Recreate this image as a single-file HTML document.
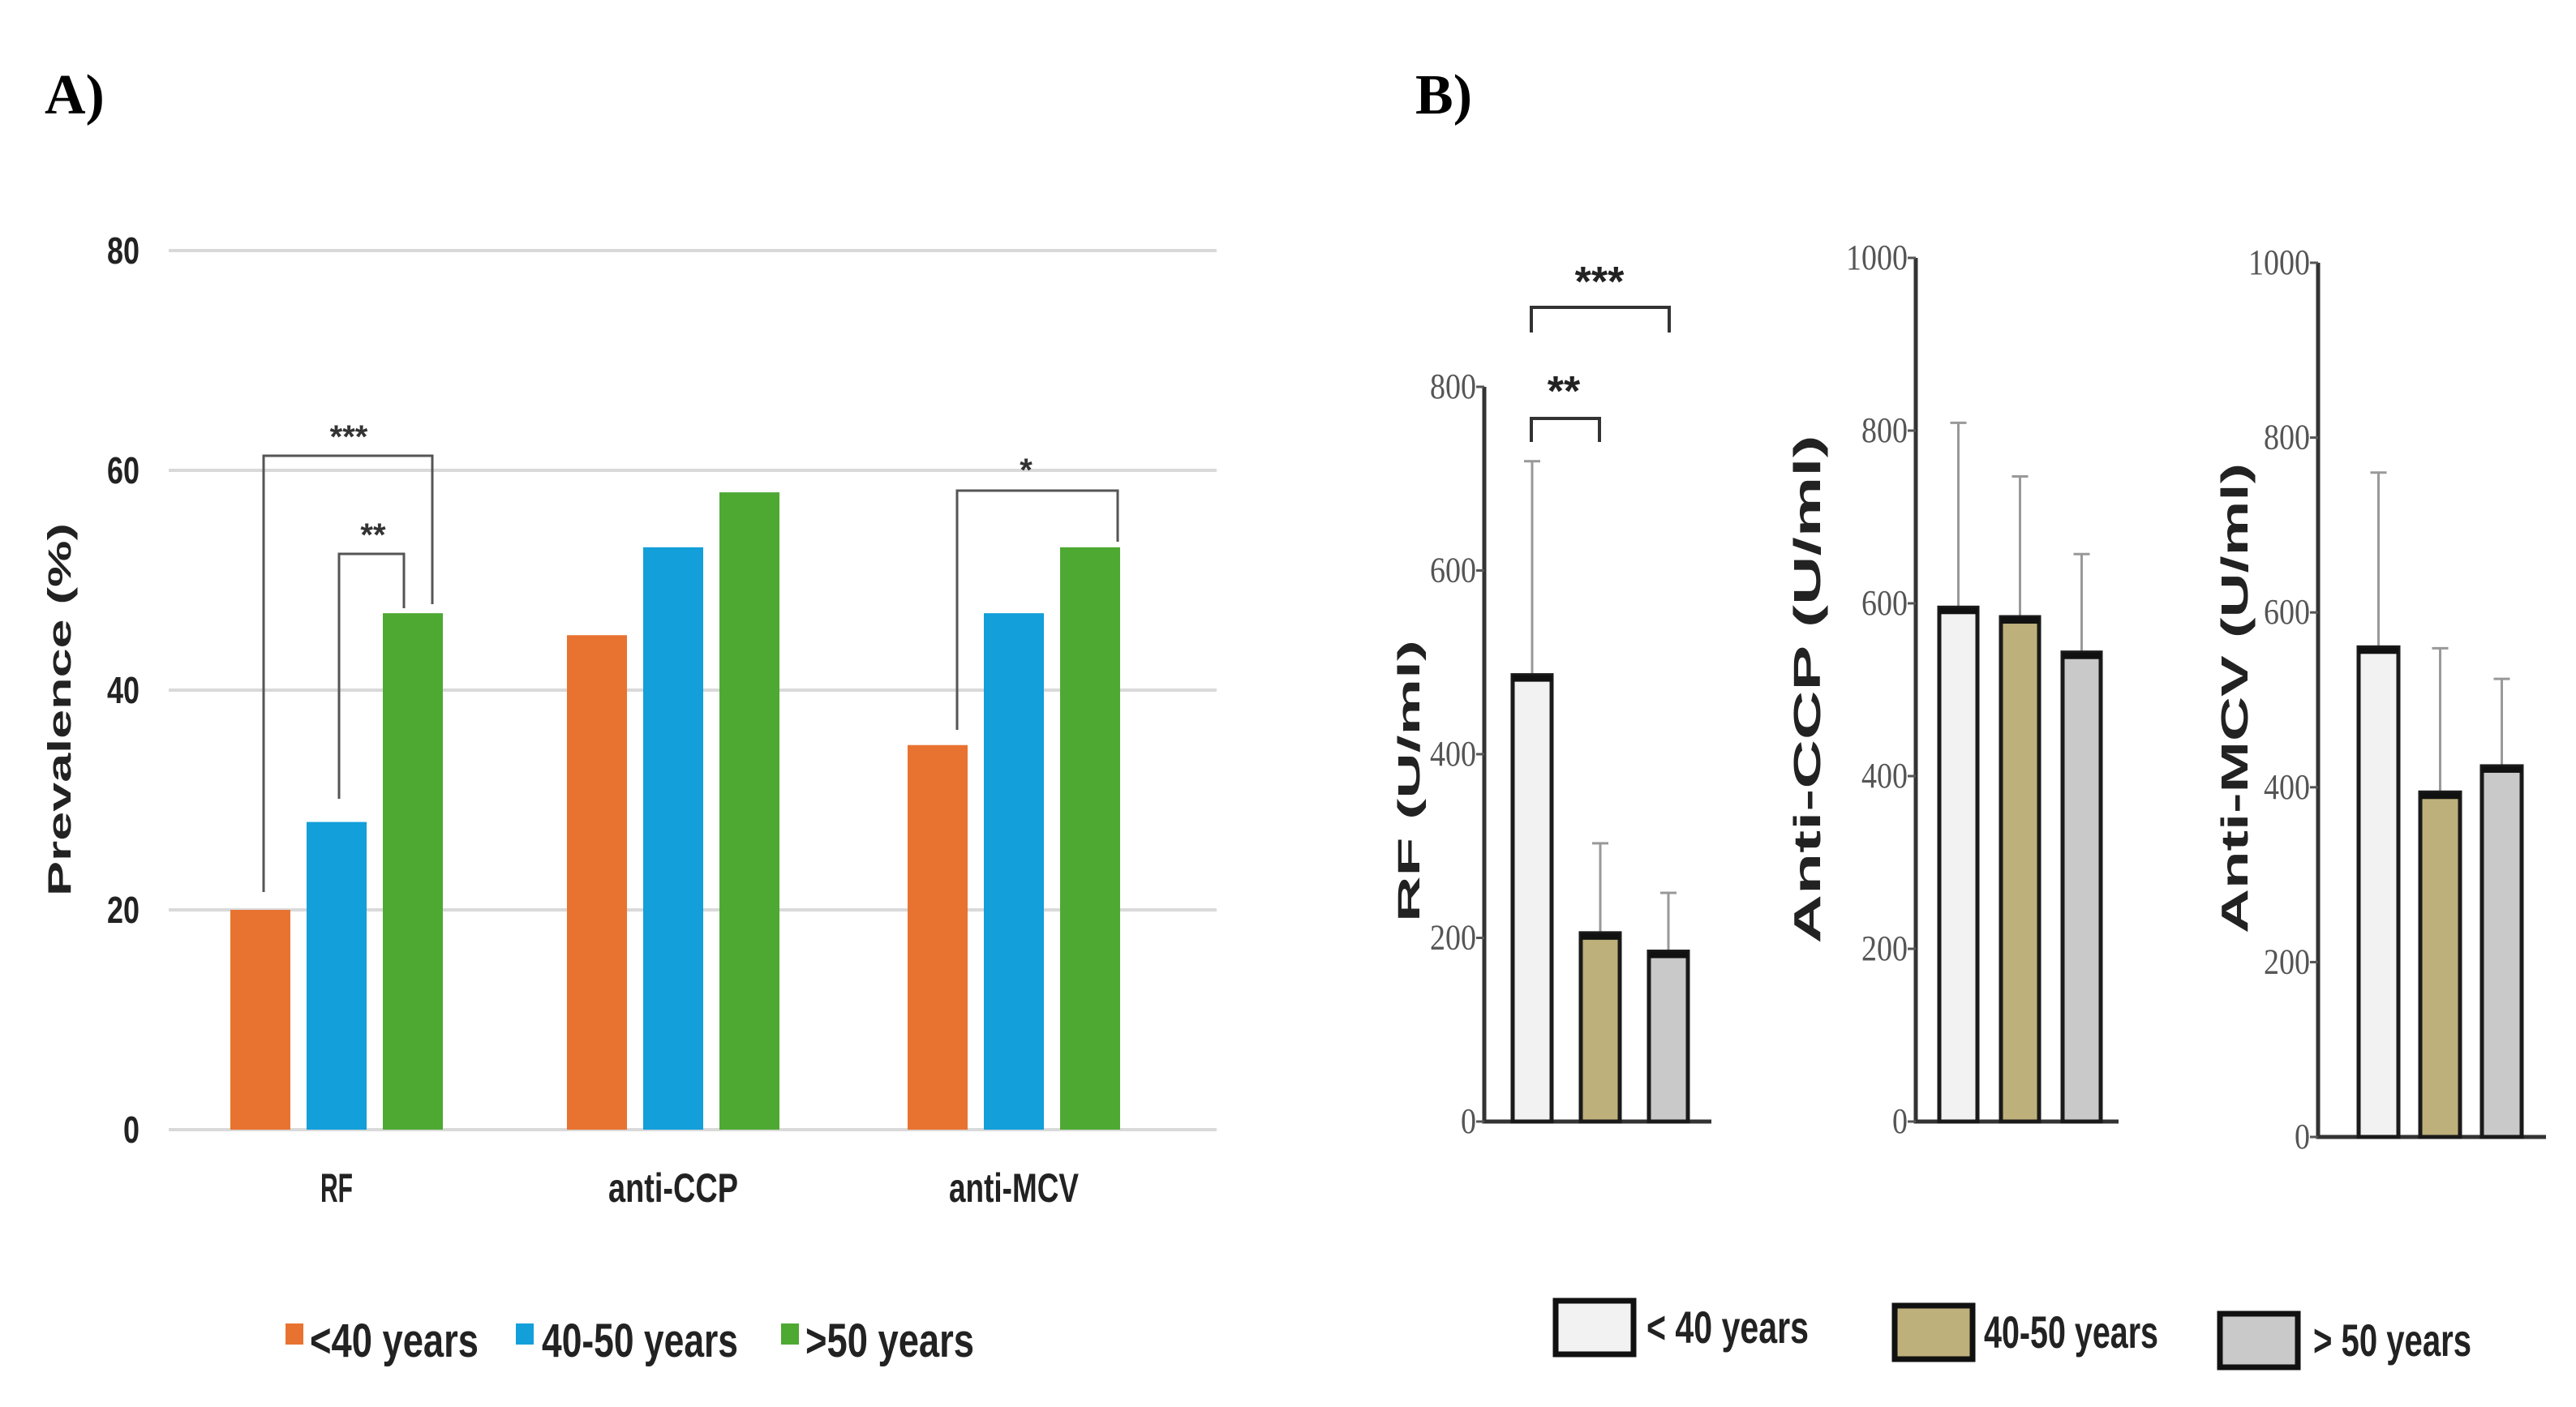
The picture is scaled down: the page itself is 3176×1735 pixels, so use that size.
<!DOCTYPE html>
<html><head><meta charset="utf-8"><style>
html,body{margin:0;padding:0;background:#fff;}
svg{display:block;}
</style></head><body>
<svg id="fig" width="3176" height="1735" viewBox="0 0 3176 1735" xmlns="http://www.w3.org/2000/svg">
<text x="55" y="140" font-family="Liberation Serif, serif" font-weight="bold" font-size="70">A)</text>
<text x="1745" y="140" font-family="Liberation Serif, serif" font-weight="bold" font-size="70">B)</text>
<g id="gA"></g>
<g id="gB"></g>
</svg>
<script>
// Panel A data
const catsA = ["RF", "anti-CCP", "anti-MCV"];
const seriesNamesA = ["<40 years", "40-50 years", ">50 years"];
const under40A = [20, 45, 35];
const mid40A = [28, 53, 47];
const over50A = [47, 58, 53];
const ticksA = [0, 20, 40, 60, 80];
// Panel B data
const groupsB = ["< 40 years", "40-50 years", "> 50 years"];
const rfMean = [486, 205, 185];
const rfErr = [719, 303, 249];
const ccpMean = [595, 584, 543];
const ccpErr = [809, 747, 657];
const mcvMean = [560, 394, 424];
const mcvErr = [760, 559, 524];
const rfTicks = [0, 200, 400, 600, 800];
const ccpTicks = [0, 200, 400, 600, 800, 1000];
const mcvTicks = [0, 200, 400, 600, 800, 1000];

const NS = "http://www.w3.org/2000/svg";
function mk(parent, tag, attrs, text) {
  const e = document.createElementNS(NS, tag);
  for (const k in attrs) e.setAttribute(k, attrs[k]);
  if (text !== undefined) e.textContent = text;
  parent.appendChild(e);
  return e;
}
// ---------- Panel A ----------
const gA = document.getElementById("gA");
const yA = v => 1393 - v * 13.55;
const colorsA = ["#e87330", "#139fda", "#4ea933"];
const centersA = [415, 830, 1250];
ticksA.forEach(t => {
  const l = mk(gA, "line", {x1: 208, x2: 1500, y1: yA(t), y2: yA(t), stroke: "#d9d9d9", "stroke-width": 4});
  
  
  const tx = mk(gA, "text", {x: 172, y: yA(t) + 16, "text-anchor": "end", "font-family": "Liberation Sans, sans-serif", "font-weight": "bold", "font-size": 46, fill: "#222", textLength: t === 0 ? 20 : 40, lengthAdjust: "spacingAndGlyphs"}, String(t));
  
  
});
const allA = [under40A, mid40A, over50A];
catsA.forEach((c, i) => {
  allA.forEach((s, j) => {
    const x = centersA[i] + (j - 1) * 94 - 37;
    const r = mk(gA, "rect", {x: x, y: yA(s[i]), width: 74, height: yA(0) - yA(s[i]), fill: colorsA[j]});
    
    
  });
  const t = mk(gA, "text", {x: centersA[i], y: 1482, "text-anchor": "middle", "font-family": "Liberation Sans, sans-serif", "font-weight": "bold", "font-size": 50, fill: "#222", textLength: c.length * 20, lengthAdjust: "spacingAndGlyphs"}, c);
  
  
});
const yt = mk(gA, "text", {x: 0, y: 0, transform: "translate(87,875) rotate(-90)", "text-anchor": "middle", "font-family": "Liberation Sans, sans-serif", "font-weight": "bold", "font-size": 40, fill: "#222", textLength: 460, lengthAdjust: "spacingAndGlyphs"}, "Prevalence  (%)");


function bracketA(x1, y1, x2, y2, yTop, label, lx, ly) {
  const p = mk(gA, "path", {d: `M${x1} ${y1} V${yTop} H${x2} V${y2}`, fill: "none", stroke: "#555", "stroke-width": 3});
  
  
  const t = mk(gA, "text", {x: lx, y: ly, "text-anchor": "middle", "font-family": "Liberation Sans, sans-serif", "font-weight": "bold", "font-size": 40, fill: "#333"}, label);
  
  
}
bracketA(325, 1100, 533, 745, 562, "***", 430, 552);
bracketA(418, 985, 498, 750, 683, "**", 460, 673);
bracketA(1180, 900, 1378, 668, 605, "*", 1265, 593);
// legend A
const legA = [[352, 382, 208], [636, 668, 242], [963, 993, 208]];
seriesNamesA.forEach((n, j) => {
  const s = mk(gA, "rect", {x: legA[j][0], y: 1632, width: 22, height: 26, fill: colorsA[j]});
  
  
  const t = mk(gA, "text", {x: legA[j][1], y: 1673, "font-family": "Liberation Sans, sans-serif", "font-weight": "bold", "font-size": 58, fill: "#222", textLength: legA[j][2], lengthAdjust: "spacingAndGlyphs"}, n);
  
  
});
// ---------- Panel B ----------
const gB = document.getElementById("gB");
const fillsB = ["#f2f2f2", "#bdb07a", "#c9c9c9"];
function chartB(cfg) {
  const y = v => cfg.y0 - v * cfg.k;
  const ax = mk(gB, "path", {d: `M${cfg.ax} ${y(cfg.ticks[cfg.ticks.length-1])} V${cfg.y0} H${cfg.xEnd}`, fill: "none", stroke: "#333", "stroke-width": 5});
  
  
  cfg.ticks.forEach(t => {
    const tk = mk(gB, "line", {x1: cfg.ax - 10, x2: cfg.ax, y1: y(t), y2: y(t), stroke: "#555", "stroke-width": 3});
    
    
    const tx = mk(gB, "text", {x: cfg.ax - 10, y: y(t) + 14, "text-anchor": "end", "font-family": "Liberation Serif, serif", "font-size": 44, fill: "#555", textLength: String(t).length * 19, lengthAdjust: "spacingAndGlyphs"}, String(t));
    
    
  });
  cfg.mean.forEach((m, i) => {
    const x = cfg.x0 + i * cfg.step;
    const cx = x + cfg.w / 2;
    const e = mk(gB, "path", {d: `M${cx} ${y(m)} V${y(cfg.err[i])} M${cx - 10} ${y(cfg.err[i])} H${cx + 10}`, stroke: "#999", "stroke-width": 3, fill: "none"});
    
    
    const r = mk(gB, "rect", {x: x, y: y(m), width: cfg.w, height: cfg.y0 - y(m), fill: fillsB[i], stroke: "#1a1a1a", "stroke-width": 5});
    
    
    const cap = mk(gB, "rect", {x: x, y: y(m), width: cfg.w, height: 8, fill: "#111"});
    
    
  });
  const t = mk(gB, "text", {x: 0, y: 0, transform: `translate(${cfg.lx},${cfg.ly}) rotate(-90)`, "text-anchor": "middle", "font-family": "Liberation Sans, sans-serif", "font-weight": "bold", "font-size": cfg.fs, fill: "#222", textLength: cfg.tl, lengthAdjust: "spacingAndGlyphs"}, cfg.title);
  
  
  return y;
}
chartB({name: "rf", ax: 1830, y0: 1383, k: 1.1325, xEnd: 2110, ticks: rfTicks, mean: rfMean, err: rfErr, x0: 1865, step: 84, w: 48, lx: 1750, ly: 963, fs: 38, tl: 348, title: "RF (U/ml)"});
chartB({name: "anti-ccp", ax: 2362, y0: 1383, k: 1.065, xEnd: 2612, ticks: ccpTicks, mean: ccpMean, err: ccpErr, x0: 2391, step: 76, w: 47, lx: 2244, ly: 850, fs: 46, tl: 627, title: "Anti-CCP (U/ml)"});
chartB({name: "anti-mcv", ax: 2858, y0: 1402, k: 1.078, xEnd: 3139, ticks: mcvTicks, mean: mcvMean, err: mcvErr, x0: 2908, step: 76, w: 49, lx: 2771, ly: 861, fs: 46, tl: 580, title: "Anti-MCV (U/ml)"});
function bracketB(x1, x2, yTop, yBot, label, lx, ly) {
  const p = mk(gB, "path", {d: `M${x1} ${yBot} V${yTop} H${x2} V${yBot}`, fill: "none", stroke: "#333", "stroke-width": 4});
  
  
  const t = mk(gB, "text", {x: lx, y: ly, "text-anchor": "middle", "font-family": "Liberation Sans, sans-serif", "font-weight": "bold", "font-size": 52, fill: "#222"}, label);
  
  
}
bracketB(1888, 1972, 516, 545, "**", 1928, 500);
bracketB(1888, 2058, 379, 410, "***", 1972, 365);
// legend B
const legB = [[1918, 1604, 2030, 200], [2336, 1610, 2446, 215], [2737, 1620, 2852, 195]];
groupsB.forEach((n, i) => {
  const b = mk(gB, "rect", {x: legB[i][0], y: legB[i][1], width: 96, height: 66, fill: fillsB[i], stroke: "#111", "stroke-width": 7});
  
  
  const t = mk(gB, "text", {x: legB[i][2], y: legB[i][1] + 52, "font-family": "Liberation Sans, sans-serif", "font-weight": "bold", "font-size": 56, fill: "#222", textLength: legB[i][3], lengthAdjust: "spacingAndGlyphs"}, n);
  
  
});
</script>
</body></html>
